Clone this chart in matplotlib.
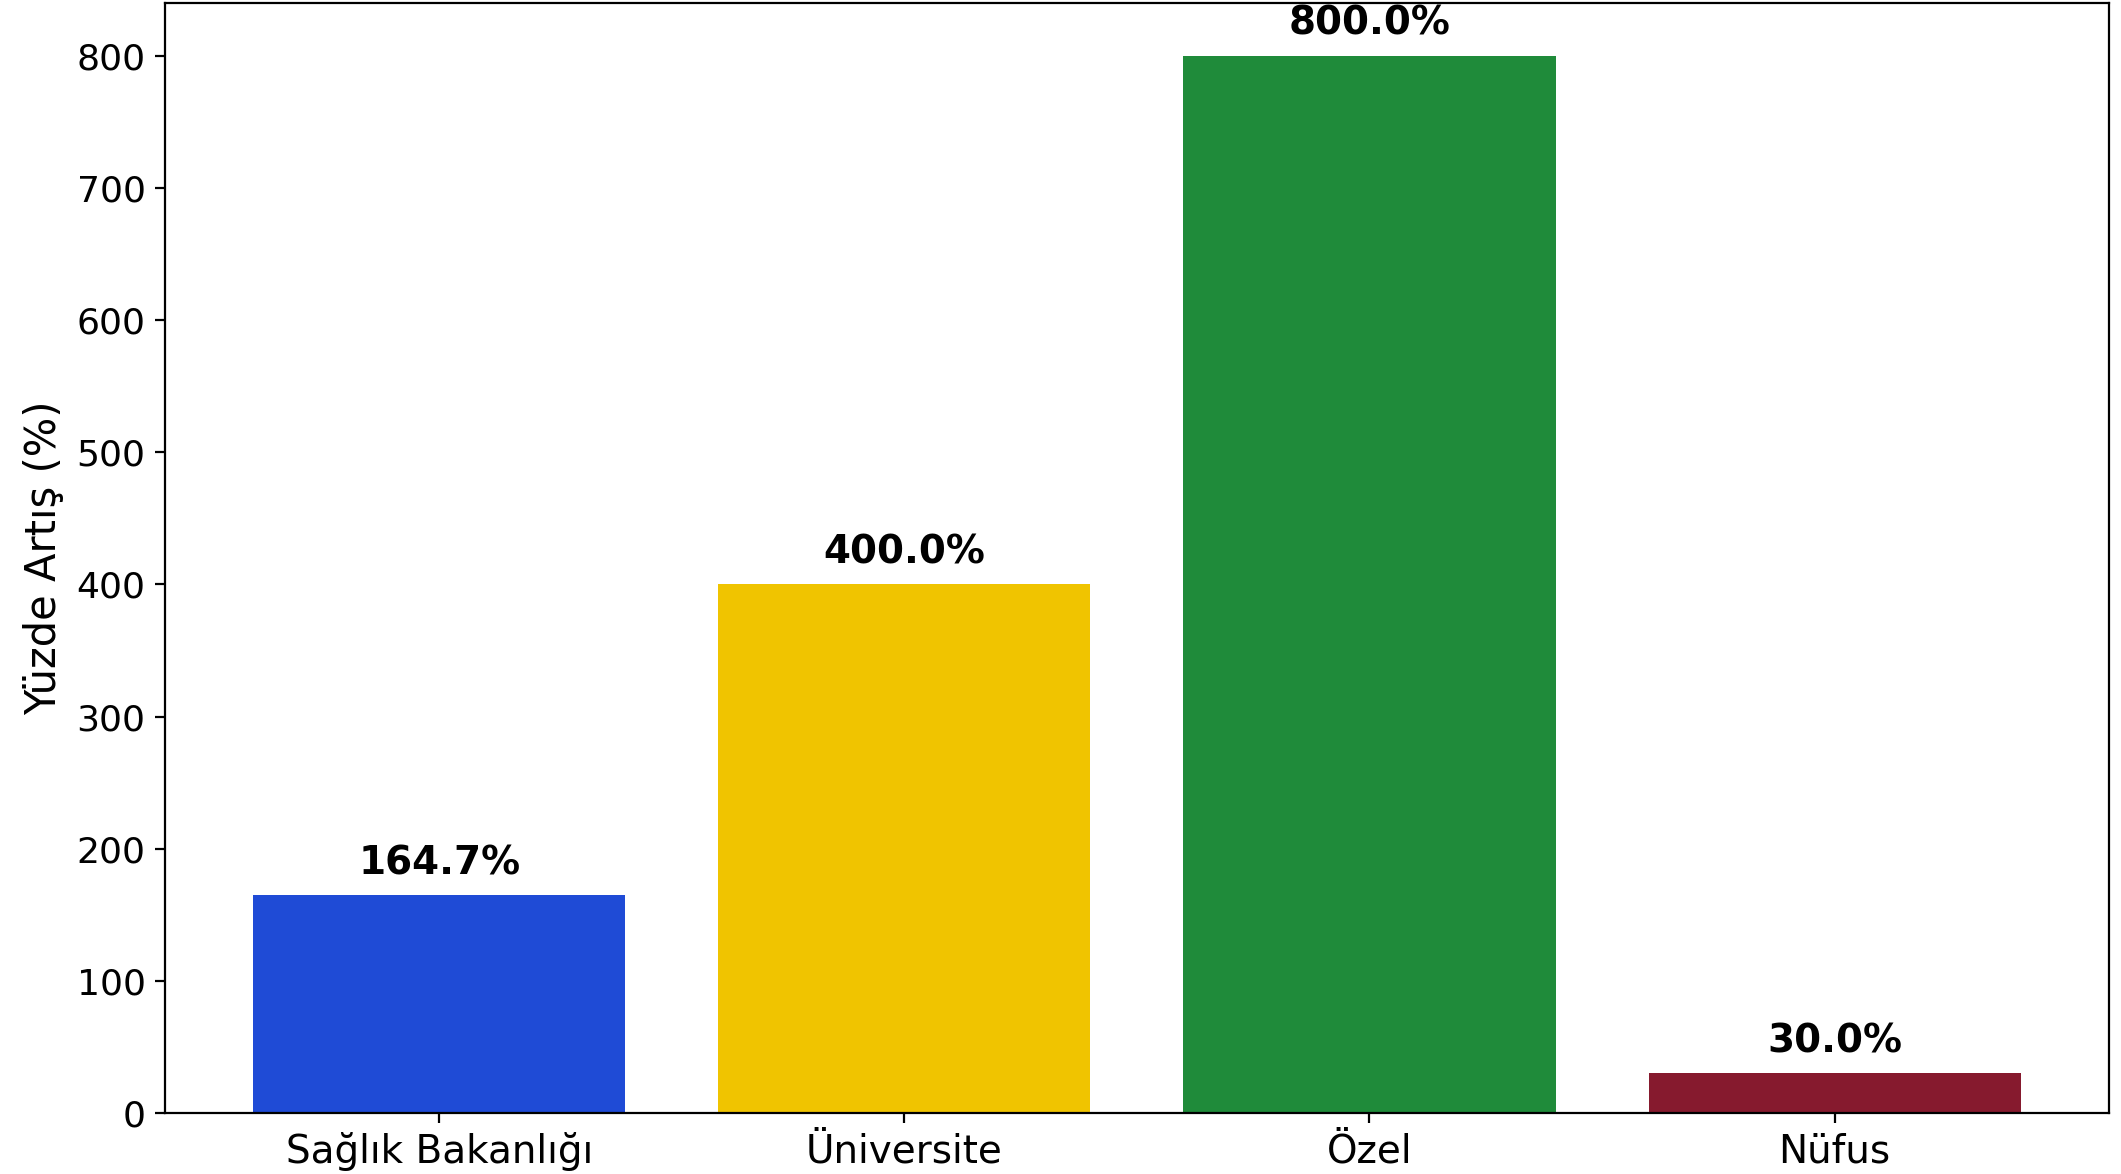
import matplotlib
matplotlib.use('Agg')
import matplotlib.pyplot as plt

# Data
categories = ['Sağlık Bakanlığı', 'Üniversite', 'Özel', 'Nüfus']
increase = [164.7, 400.0, 800.0, 30.0]
colors = ['#1f4bd6', '#f0c400', '#1f8b3a', '#861a2e']

plt.rcParams['font.family'] = ['DejaVu Sans']

fig = plt.figure(figsize=(10.605, 5.87), dpi=200)
ax = fig.add_axes([0.0778, 0.052, 0.9165, 0.9454])

bars = ax.bar(categories, increase, color=colors, width=0.8)

for b, v in zip(bars, increase):
    ax.text(b.get_x() + b.get_width() / 2, v + 10, f'{v:.1f}%',
            ha='center', va='bottom', fontsize=14, fontweight='bold')

ax.set_ylabel('Yüzde Artış (%)', fontsize=15)
ax.tick_params(axis='y', labelsize=13)
ax.tick_params(axis='x', labelsize=14)
ax.set_ylim(0, 840)

fig.savefig('out.png', dpi=200)
